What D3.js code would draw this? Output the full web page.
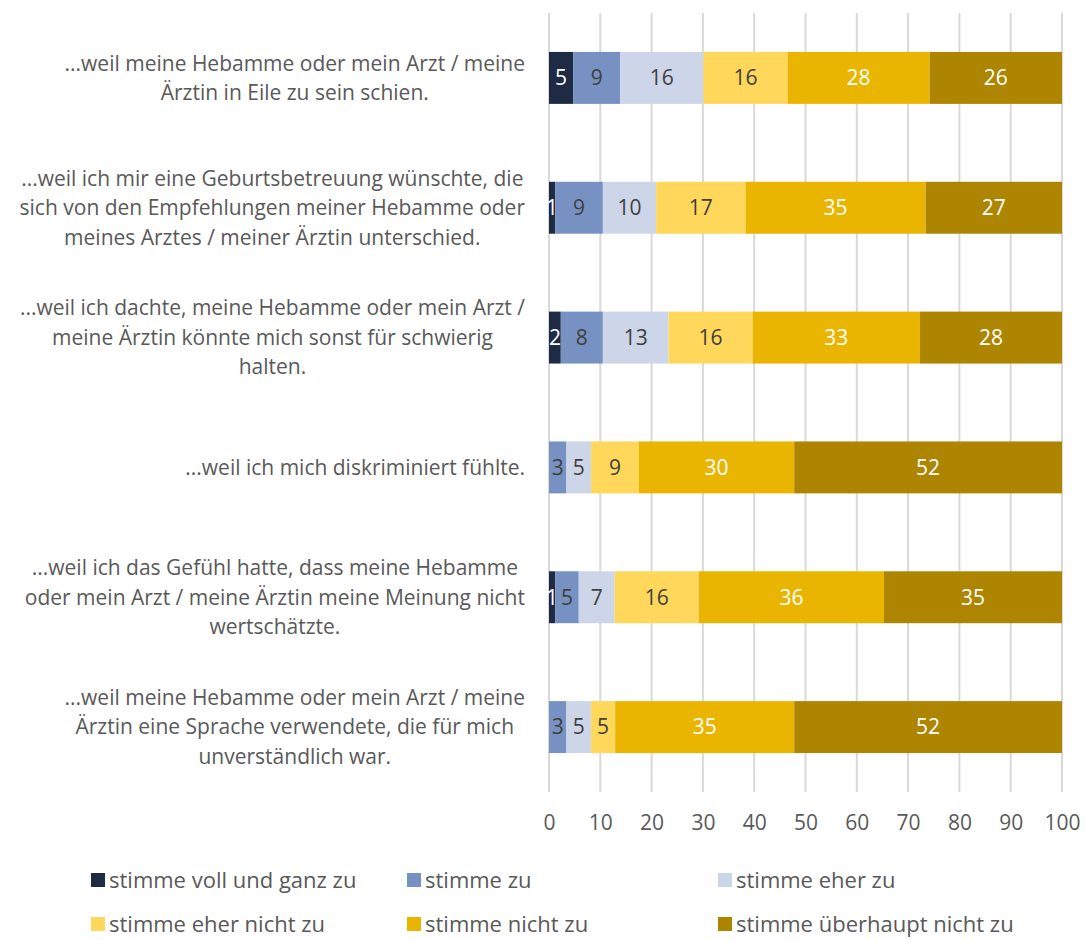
<!DOCTYPE html>
<html>
<head>
<meta charset="utf-8">
<script src="https://cdn.jsdelivr.net/npm/d3@7"></script>
<style>
  body { margin: 0; background: #fff; }
  svg { display: block; font-family: "Open Sans", "Noto Sans", sans-serif; }
</style>
</head>
<body>
<div id="chart"></div>
<script>
// statements, top to bottom, each split into the lines shown in the chart
const categories = [
  ["...weil meine Hebamme oder mein Arzt / meine", "Ärztin in Eile zu sein schien."],
  ["...weil ich mir eine Geburtsbetreuung wünschte, die", "sich von den Empfehlungen meiner Hebamme oder", "meines Arztes / meiner Ärztin unterschied."],
  ["...weil ich dachte, meine Hebamme oder mein Arzt /", "meine Ärztin könnte mich sonst für schwierig", "halten."],
  ["...weil ich mich diskriminiert fühlte."],
  ["...weil ich das Gefühl hatte, dass meine Hebamme", "oder mein Arzt / meine Ärztin meine Meinung nicht", "wertschätzte."],
  ["...weil meine Hebamme oder mein Arzt / meine", "Ärztin eine Sprache verwendete, die für mich", "unverständlich war."]
];

const seriesNames = [
  "stimme voll und ganz zu", "stimme zu", "stimme eher zu",
  "stimme eher nicht zu", "stimme nicht zu", "stimme überhaupt nicht zu"
];
const seriesColors = ["#1f2a44", "#7891c3", "#cdd5e8", "#ffd75a", "#e9b500", "#ad8500"];
const labelColors = ["#fff", "#404040", "#404040", "#404040", "#fff", "#fff"];

// percentages per series, one value per statement (top to bottom)
const vollUndGanz = [4.7, 1.2, 2.3, 0, 1.2, 0];
const stimmeZu = [9.2, 9.3, 8.2, 3.4, 4.6, 3.4];
const eherZu = [16.2, 10.4, 12.8, 4.8, 7.0, 4.8];
const eherNicht = [16.4, 17.4, 16.4, 9.3, 16.4, 4.7];
const nichtZu = [27.7, 35.1, 32.6, 30.3, 36.1, 34.9];
const ueberhauptNicht = [25.8, 26.6, 27.7, 52.2, 34.7, 52.2];

const xTicks = [0, 10, 20, 30, 40, 50, 60, 70, 80, 90, 100];

const seriesValues = [vollUndGanz, stimmeZu, eherZu, eherNicht, nichtZu, ueberhauptNicht];

const width = 1087, height = 940;
const svg = d3.select("#chart").append("svg")
  .attr("width", width).attr("height", height);

const x = d3.scaleLinear().domain([0, 100]).range([549, 1062]);
const y = d3.scaleBand().domain(d3.range(categories.length))
  .range([13, 792]).paddingInner(0.6).paddingOuter(0.3);

// gridlines
svg.append("g")
  .selectAll("line")
  .data(xTicks)
  .join("line")
  .attr("x1", d => x(d)).attr("x2", d => x(d))
  .attr("y1", 13).attr("y2", 792)
  .attr("stroke", "#d9d9d9")
  .attr("stroke-width", 2);

// x tick labels
const xAxis = svg.append("g")
  .attr("transform", "translate(0,815)")
  .call(d3.axisBottom(x).tickValues(xTicks).tickSize(0).tickPadding(0));
xAxis.select(".domain").remove();
xAxis.selectAll("text")
  .attr("font-size", "21px")
  .attr("font-family", "Open Sans, sans-serif")
  .attr("fill", "#595959")
  .attr("dy", "0.71em");

// stacked data
const rows = categories.map((c, i) => {
  let acc = 0;
  return seriesValues.map((vals, s) => {
    const seg = { row: i, s, v: vals[i], x0: acc, x1: acc + vals[i] };
    acc += vals[i];
    return seg;
  });
});

const segs = rows.flat();

svg.append("g")
  .selectAll("rect")
  .data(segs.filter(d => d.v > 0))
  .join("rect")
  .attr("x", d => x(d.x0))
  .attr("y", d => y(d.row))
  .attr("width", d => x(d.x1) - x(d.x0))
  .attr("height", y.bandwidth())
  .attr("fill", d => seriesColors[d.s]);

svg.append("g")
  .selectAll("text")
  .data(segs.filter(d => Math.round(d.v) > 0))
  .join("text")
  .attr("x", d => (x(d.x0) + x(d.x1)) / 2)
  .attr("y", d => y(d.row) + y.bandwidth() / 2)
  .attr("text-anchor", "middle")
  .attr("dy", "0.35em")
  .attr("font-size", "21px")
  .attr("fill", d => labelColors[d.s])
  .text(d => Math.round(d.v));

// category labels: block right-aligned, lines centred inside it
const lineH = 29.5;
const catG = svg.append("g");
categories.forEach((lines, i) => {
  const cy = y(i) + y.bandwidth() / 2;
  const t = catG.append("text")
    .attr("font-size", "21px")
    .attr("fill", "#595959")
    .attr("text-anchor", "middle");
  const spans = t.selectAll("tspan")
    .data(lines)
    .join("tspan")
    .attr("y", (d, k) => cy + (k - (lines.length - 1) / 2) * lineH)
    .attr("dy", "0.35em")
    .text(d => d);
  const w = d3.max(spans.nodes(), n => n.getComputedTextLength());
  spans.attr("x", 525 - w / 2);
});

// legend
const legendPos = [[91, 880], [407, 880], [718, 880], [91, 924], [407, 924], [718, 924]];
const legend = svg.append("g")
  .selectAll("g")
  .data(seriesNames)
  .join("g")
  .attr("transform", (d, i) => `translate(${legendPos[i][0]},${legendPos[i][1]})`);
legend.append("rect")
  .attr("x", 0).attr("y", -7)
  .attr("width", 14).attr("height", 14)
  .attr("fill", (d, i) => seriesColors[i]);
legend.append("text")
  .attr("x", 18)
  .attr("dy", "0.35em")
  .attr("font-size", "22px")
  .attr("fill", "#595959")
  .text(d => d);
</script>
</body>
</html>
